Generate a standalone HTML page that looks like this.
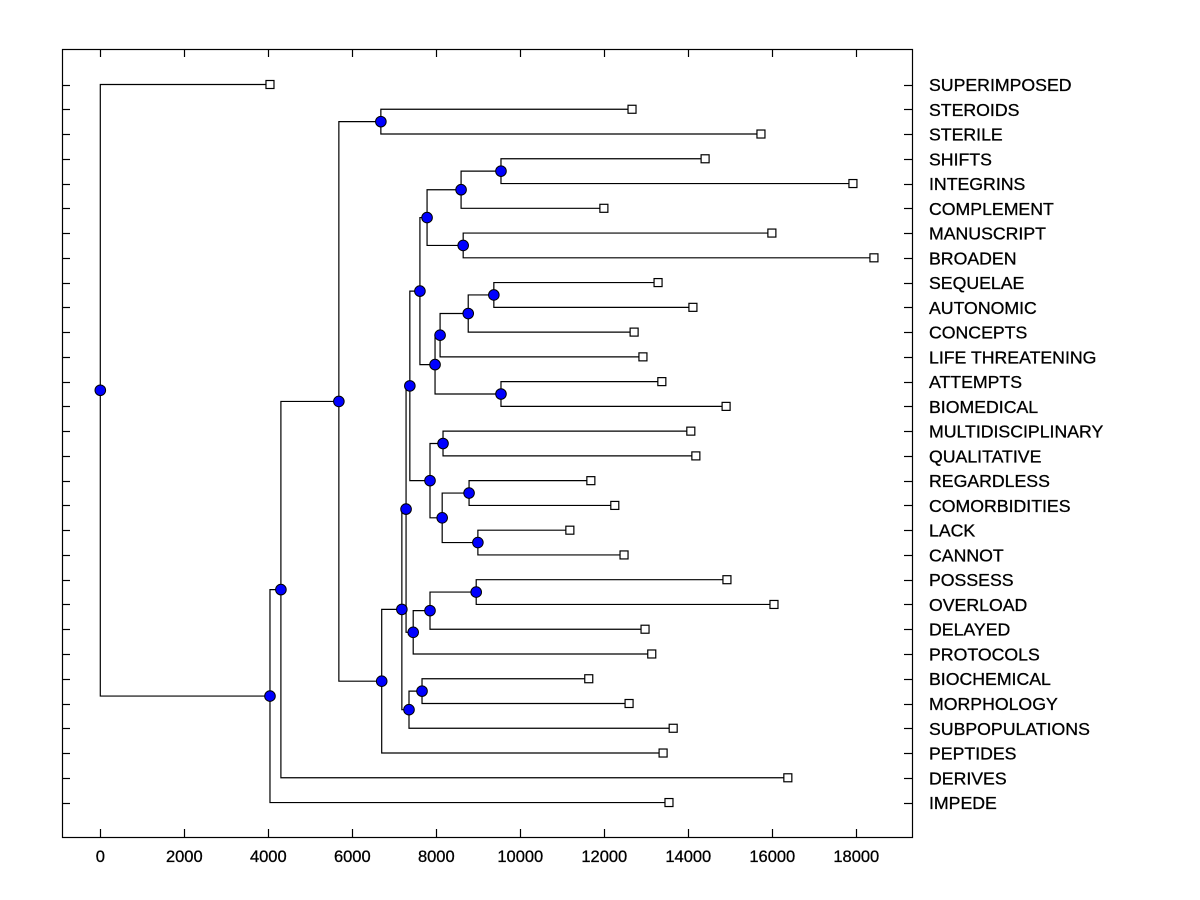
<!DOCTYPE html>
<html><head><meta charset="utf-8"><style>
html,body{margin:0;padding:0;background:#fff;}
svg{display:block;font-family:"Liberation Sans",Arial,sans-serif;}
</style></head><body>
<svg id="chart" width="1200" height="900" xmlns="http://www.w3.org/2000/svg">
<rect x="0" y="0" width="1200" height="900" fill="#fff"/>
<rect x="62.5" y="49.5" width="850" height="788" fill="none" stroke="#000" stroke-width="1.2"/>
</svg>
<script>
const leafLabels = ["SUPERIMPOSED","STEROIDS","STERILE","SHIFTS","INTEGRINS","COMPLEMENT","MANUSCRIPT","BROADEN","SEQUELAE","AUTONOMIC","CONCEPTS","LIFE THREATENING","ATTEMPTS","BIOMEDICAL","MULTIDISCIPLINARY","QUALITATIVE","REGARDLESS","COMORBIDITIES","LACK","CANNOT","POSSESS","OVERLOAD","DELAYED","PROTOCOLS","BIOCHEMICAL","MORPHOLOGY","SUBPOPULATIONS","PEPTIDES","DERIVES","IMPEDE"];
const leafValues = [4040,12660,15730,14400,17920,11990,15990,18420,13280,14110,12710,12920,13370,14900,14060,14180,11680,12250,11180,12470,14920,16040,12970,13130,11630,12590,13640,13400,16370,13540];
// children: >=0 leaf index, <0 => merge -(k+1)
const mergeLeft  = [3,-1,6,-2,8,-5,-6,12,-7,-4,14,16,18,-12,-11,-10,20,-17,-18,-16,24,-21,-20,-23,1,-25,-26,-27,0];
const mergeRight = [4,5,7,-3,9,10,11,13,-8,-9,15,17,19,-13,-14,-15,21,22,23,-19,25,26,-22,27,2,-24,28,29,-28];
const mergeHeights = [9540,8590,8640,7780,9370,8760,8090,9540,7970,7610,8160,8780,8990,8140,7850,7370,8950,7850,7450,7280,7660,7350,7180,6700,6680,5680,4300,4040,0];
const xTicks = [0,2000,4000,6000,8000,10000,12000,14000,16000,18000];

const svg = document.getElementById('chart');
const NS = 'http://www.w3.org/2000/svg';
const X = v => 100.3 + v * 0.042;
const Y = i => 84.5 + i * 24.76;
function mk(tag, attrs){const e=document.createElementNS(NS,tag);for(const k in attrs)e.setAttribute(k,attrs[k]);svg.appendChild(e);return e;}

xTicks.forEach(t=>{
  const x = Math.round(X(t))+0.5;
  let e = mk('line',{x1:x,x2:x,y1:838,y2:829,stroke:'#000','stroke-width':1.2});
  
  
  e = mk('line',{x1:x,x2:x,y1:49,y2:57,stroke:'#000','stroke-width':1.2});
  
  
  e = mk('text',{x:X(t),y:862,'font-size':16.5,'text-anchor':'middle',fill:'#000','stroke':'#000','stroke-width':0.3});
  e.textContent = t;
  
  
});
leafLabels.forEach((lab,i)=>{
  const y = Math.round(Y(i))+0.5;
  let e = mk('line',{x1:62,x2:70,y1:y,y2:y,stroke:'#000','stroke-width':1.2});
  
  
  e = mk('line',{x1:904,x2:912,y1:y,y2:y,stroke:'#000','stroke-width':1.2});
  
  
  e = mk('text',{x:929,y:Y(i)+6.5,'font-size':17.7,fill:'#000','stroke':'#000','stroke-width':0.3});
  e.textContent = lab;
  
  
});

const nodeY = [];
function pos(c){ return c>=0 ? {x:X(leafValues[c]), y:Y(c)} : {x:X(mergeHeights[-c-1]), y:nodeY[-c-1]}; }
mergeHeights.forEach((h,k)=>{ nodeY[k] = (pos(mergeLeft[k]).y + pos(mergeRight[k]).y)/2; });

const circles = [];
mergeHeights.forEach((h,k)=>{
  const a = pos(mergeLeft[k]), b = pos(mergeRight[k]);
  const x = X(h);
  const p = mk('path',{d:`M${a.x},${a.y}H${x}V${b.y}H${b.x}`,fill:'none',stroke:'#000','stroke-width':1.2});
  
  
  circles.push([x,nodeY[k]]);
});
leafValues.forEach((v,i)=>{
  const r = mk('rect',{x:X(v)-4,y:Y(i)-4,width:8,height:8,fill:'#fff',stroke:'#000','stroke-width':1.2});
  
  
});
circles.forEach(([x,y])=>{
  const c = mk('circle',{cx:x,cy:y,r:5.3,fill:'#0000ff',stroke:'#000','stroke-width':1});
  
  
});
</script>
</body></html>
